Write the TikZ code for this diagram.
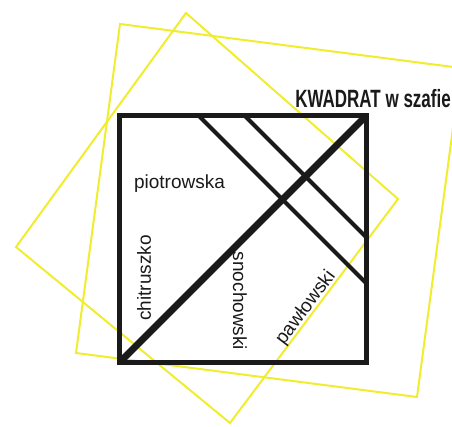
\documentclass[tikz,border=0pt]{standalone}
\usepackage{fontspec}
\setmainfont{Liberation Sans}
\newfontfamily\titlefont[FakeStretch=0.68]{Liberation Sans}
\usepackage{tikz}
\usepackage{xcolor}
\definecolor{sqyellow}{HTML}{F0EC2E}
\definecolor{sqblack}{HTML}{1A1A1A}

\begin{document}
\begin{tikzpicture}[x=1pt, y=-1pt,
    yellowsq/.style={sqyellow, line width=2pt},
    frame/.style={sqblack, line width=5pt},
    person/.style={font=\fontsize{19}{21}\selectfont, sqblack, inner sep=0pt}]
      \useasboundingbox (0,0) rectangle (452,427);
      % the two yellow squares behind
      \draw[yellowsq] (120,24) -- (461,68) -- (417,397) -- (76,353) -- cycle;
      \draw[yellowsq] (186,13) -- (398,199) -- (230,423) -- (16,247) -- cycle;
      % black square and its cuts
      \draw[frame] (119,116) rectangle (366,362);
      \draw[sqblack, line width=7pt] (122,360) -- (364,118);
      \draw[sqblack, line width=4pt] (199,116) -- (366,283);
      \draw[sqblack, line width=4pt] (245,116) -- (366,237);
      \node[person] (piotr) at (179.5,183.5) {piotrowska};
      \node[person, rotate=90] (chitr) at (144,278) {chitruszko};
      \node[person, rotate=-90] (snoch) at (240,301) {snochowski};
      \node[person, rotate=53] (pawl) at (306,308) {pawłowski};
      \node[font=\titlefont\bfseries\fontsize{25}{28}\selectfont, sqblack,
            anchor=base east, inner sep=0pt] (title) at (451,108)
        {KWADRAT w szafie};
    \end{tikzpicture}
\end{document}
